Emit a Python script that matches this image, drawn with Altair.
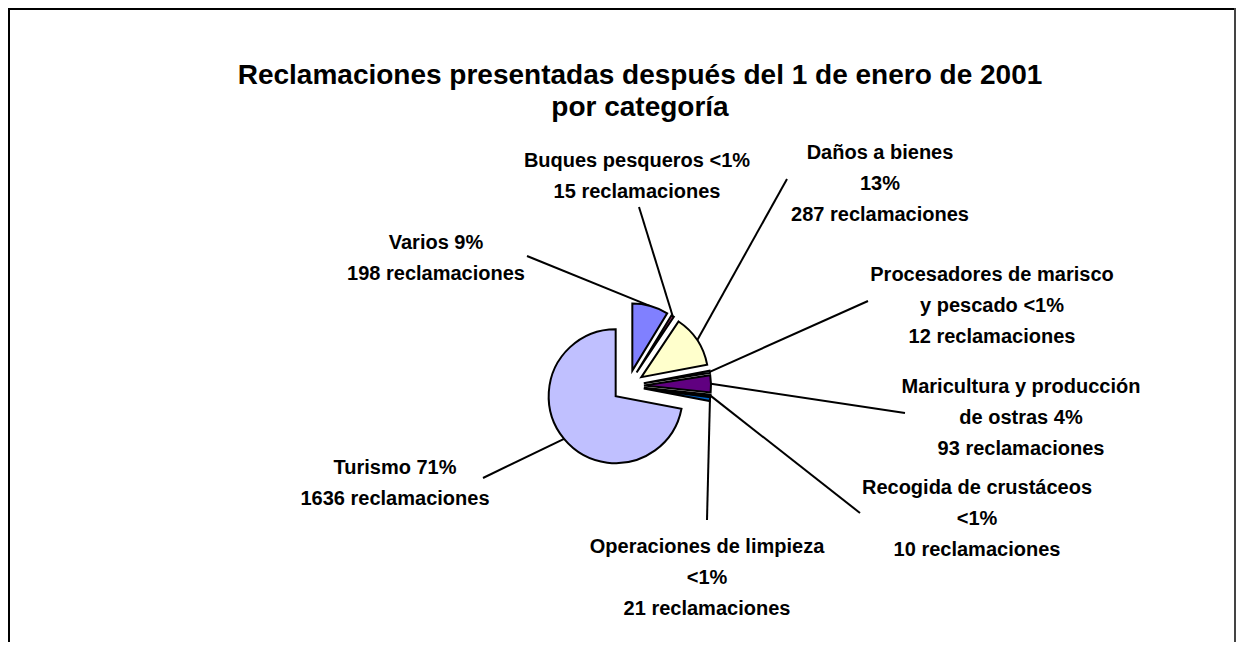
import altair as alt
import pandas as pd

# ---------------- data ----------------
categories = [
    "Varios",
    "Buques pesqueros",
    "Daños a bienes",
    "Procesadores de marisco y pescado",
    "Maricultura y producción de ostras",
    "Recogida de crustáceos",
    "Operaciones de limpieza",
    "Turismo",
]
claims = [198, 15, 287, 12, 93, 10, 21, 1636]
label_texts = [
    "Varios 9%\n198 reclamaciones",
    "Buques pesqueros <1%\n15 reclamaciones",
    "Daños a bienes\n13%\n287 reclamaciones",
    "Procesadores de marisco\ny pescado  <1%\n12 reclamaciones",
    "Maricultura y producción\nde ostras 4%\n93 reclamaciones",
    "Recogida de crustáceos\n<1%\n10 reclamaciones",
    "Operaciones de limpieza\n<1%\n21 reclamaciones",
    "Turismo 71%\n1636 reclamaciones",
]
title_text = "Reclamaciones presentadas después del 1 de enero de 2001\npor categoría"

# ---------------- styles / layout ----------------
colors = ["#8080FF", "#993366", "#FFFFCC", "#CCFFFF", "#600080", "#FF8080", "#0066CC", "#C0C0FF"]
W, H = 1228, 634
OFF = 8  # page margin
CX, CY = 628 - OFF, 386 - OFF  # pie centre
R = 67       # pie radius
E = 16       # explode distance
FONT = "Liberation Sans"
LABEL_SIZE = 20
LINE_H = 31

# leader-line end near label (page coords) and label first-line centre (page coords)
leader_end = {
    "Varios": (527, 256),
    "Buques pesqueros": (639, 207),
    "Daños a bienes": (787, 179),
    "Procesadores de marisco y pescado": (868, 301),
    "Maricultura y producción de ostras": (905, 413),
    "Recogida de crustáceos": (860, 513),
    "Operaciones de limpieza": (707, 520),
    "Turismo": (483, 478),
}
label_pos = {
    "Varios": (436, 242),
    "Buques pesqueros": (637, 160),
    "Daños a bienes": (880, 152),
    "Procesadores de marisco y pescado": (992, 274),
    "Maricultura y producción de ostras": (1021, 386),
    "Recogida de crustáceos": (977, 487),
    "Operaciones de limpieza": (707, 546),
    "Turismo": (395, 467),
}

df = pd.DataFrame({
    "category": categories,
    "claims": claims,
    "order": list(range(len(categories))),
    "label": label_texts,
})
df["lx"] = [leader_end[c][0] - OFF for c in categories]
df["ly"] = [leader_end[c][1] - OFF for c in categories]
df["tx"] = [label_pos[c][0] - OFF for c in categories]
df["ty"] = [label_pos[c][1] - OFF + 0.36 * LABEL_SIZE for c in categories]

base = alt.Chart(df).transform_window(
    cum="sum(claims)", sort=[alt.SortField("order")], frame=[None, 0]
).transform_joinaggregate(
    total="sum(claims)"
).transform_calculate(
    a0="2*PI*(datum.cum - datum.claims)/datum.total",
    a1="2*PI*datum.cum/datum.total",
).transform_calculate(
    mid="(datum.a0 + datum.a1)/2"
).transform_calculate(
    ex=f"{CX} + {E}*sin(datum.mid)",
    ey=f"{CY} - {E}*cos(datum.mid)",
    sx=f"{CX} + {E + R}*sin(datum.mid)",
    sy=f"{CY} - {E + R}*cos(datum.mid)",
)

pie = base.mark_arc(radius=R, stroke="black", strokeWidth=2).encode(
    theta=alt.Theta("a0:Q", scale=None),
    theta2="a1:Q",
    x=alt.X("ex:Q", scale=None, axis=None),
    y=alt.Y("ey:Q", scale=None, axis=None),
    color=alt.Color("category:N", scale=alt.Scale(domain=categories, range=colors), legend=None),
)

leaders = base.mark_rule(color="black", strokeWidth=2).encode(
    x=alt.X("sx:Q", scale=None, axis=None),
    y=alt.Y("sy:Q", scale=None, axis=None),
    x2="lx:Q",
    y2="ly:Q",
)

labels = alt.Chart(df).mark_text(
    align="center", baseline="alphabetic", lineBreak="\n", font=FONT,
    fontSize=LABEL_SIZE, fontWeight="bold", lineHeight=LINE_H, color="black",
).encode(
    x=alt.X("tx:Q", scale=None, axis=None),
    y=alt.Y("ty:Q", scale=None, axis=None),
    text="label:N",
)

one = pd.DataFrame({"k": [0]})
title = alt.Chart(one).mark_text(
    align="center", baseline="alphabetic", lineBreak="\n", font=FONT,
    fontSize=28, fontWeight="bold", lineHeight=32, color="black",
).encode(
    x=alt.value(640 - OFF), y=alt.value(84 - OFF), text=alt.value(title_text)
)

frame_top = alt.Chart(one).mark_rule(color="black", strokeWidth=2).encode(
    x=alt.value(0), x2=alt.value(W), y=alt.value(1)
)
frame_left = alt.Chart(one).mark_rule(color="black", strokeWidth=2).encode(
    x=alt.value(1), y=alt.value(0), y2=alt.value(H)
)
frame_right = alt.Chart(one).mark_rule(color="#444444", strokeWidth=2).encode(
    x=alt.value(W - 1), y=alt.value(0), y2=alt.value(H)
)

chart = alt.layer(
    leaders, pie, labels, title, frame_top, frame_left, frame_right
).properties(
    width=W, height=H, autosize=alt.AutoSizeParams(type="none"), padding=0,
    background="white",
).configure_view(stroke=None)

chart.save("out.html", embed_options={"renderer": "svg", "actions": False})
